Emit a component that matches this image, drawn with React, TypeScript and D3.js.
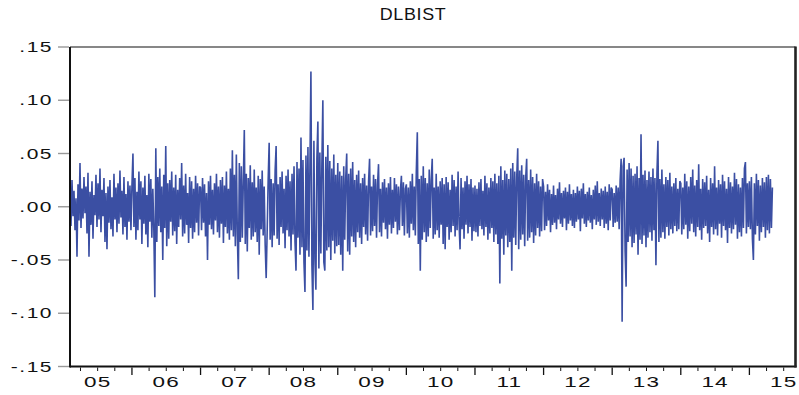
import { useRef, useEffect } from 'react';
import * as d3 from 'd3';

// daily log returns (roughly one value per pixel column)
const Y2005 = [
  .012, -.018, .025, -.009, .015, -.022, .008, -.047, .021, -.013,
  .041, -.02, .017, -.011, .028, -.006, .019, -.025, .032, -.047,
  .014, -.017, .024, -.03, .011, -.008, .03, -.019, .022, -.012,
  .036, -.024, .016, -.009, .027, -.033, .013, -.04, .019, -.015,
  .025, -.021, .009, -.028, .031, -.012, .018, -.024, .022, -.016,
  .034, -.01, .015, -.026, .028, -.019, .012, -.031, .024, -.014,
  .02, -.022,
];
const Y2006 = [
  .02, .05, -.019, .027, -.031, .014, -.022, .033, -.012, .024,
  -.035, .018, -.016, .029, -.026, .011, -.038, .031, -.014, .026,
  -.029, .017, -.021, -.085, .055, -.033, .028, -.018, .036, -.024,
  .019, -.05, .03, -.02, .057, -.037, .022, -.03, .025, -.014,
  .033, -.027, .018, -.023, .03, -.035, .016, -.019, .027, -.012,
  .041, -.028, .02, -.025, .031, -.017, .013, -.034, .028, -.02,
  .024, -.03, .017, -.024, .029, -.015, .022, -.027, .019,
];
const Y2007 = [
  .018, -.022, .027, -.015, .021, -.028, .013, -.05, .024, -.017,
  .029, -.021, .016, -.026, .022, -.013, .031, -.024, .019, -.029,
  .025, -.016, .028, -.034, .02, -.019, .033, -.025, .017, -.031,
  .036, -.022, .053, -.028, .03, -.037, .049, -.026, -.068, .041,
  -.033, .038, -.029, .024, .072, -.035, .031, -.042, .027, -.02,
  .039, -.031, .023, -.028, .035, -.024, .018, -.033, .029, -.045,
  .026, -.021, .034, -.027, .019, -.036, -.067, -.023, .025,
];
const Y2008 = [
  .06, -.031, .026, -.038, .022, -.027, .034, .057, -.03, .021,
  -.036, .028, -.019, .033, -.025, .017, -.039, .029, -.022, .035,
  -.028, .024, -.041, .031, -.026, .038, -.033, -.06, .042, -.029,
  .036, -.045, .065, -.038, .044, -.052, -.08, .048, -.041, .056,
  -.047, .038, .127, -.055, -.097, .062, -.049, -.078, .045, .08,
  -.058, .051, -.044, .039, .1, -.052, -.06, .047, -.041, .058,
  -.038, .043, -.05, .036, -.032, .049, -.044, .03, -.037,
];
const Y2009 = [
  .041, -.036, .033, -.045, .029, -.06, .038, -.031, .027, .05,
  -.042, .031, -.045, .036, -.028, .042, -.033, .025, -.038, .03,
  -.024, .034, -.029, .022, -.035, .027, -.019, .031, -.026, .02,
  -.032, .024, .045, -.027, .019, -.023, .03, -.018, .026, -.029,
  .021, .04, -.024, .017, -.028, .023, -.015, .026, -.021, .018,
  -.03, .022, -.017, .028, -.025, .016, -.02, .027, -.014, .021,
  -.026, .019, -.022, .015, .029, -.018, .023, -.027, .017,
];
const Y2010 = [
  .021, -.025, .018, -.029, .024, -.016, .031, -.022, .019, -.027,
  .033, .07, -.035, .026, -.06, .029, -.031, .038, -.024, .027,
  -.033, .022, -.028, .035, -.02, .025, .045, -.03, .018, -.026,
  .031, -.022, .019, -.029, .024, -.017, .027, -.035, .021, -.04,
  .028, -.019, .023, -.031, .016, -.024, .03, -.018, .025, -.028,
  .019, -.022, .033, -.016, -.04, .027, -.021, .018, -.03, .024,
  -.017, .029, -.025, .021, -.019, .026, -.032, .018, -.023,
];
const Y2011 = [
  .02, -.024, .017, -.028, .023, -.018, .026, -.021, .015, -.027,
  .029, -.019, .022, -.031, .018, -.025, .027, -.02, .024, -.033,
  .031, -.026, .022, -.035, .029, -.072, .038, -.03, .025, -.045,
  .034, -.027, .031, -.038, .026, -.033, .036, -.06, .041, -.029,
  .033, -.036, .028, .055, -.04, .034, -.031, .039, -.026, .03,
  -.037, .027, .045, -.032, .025, -.029, .035, -.024, .028, -.034,
  .022, -.027, .031, -.02, .024, -.028, .019, -.023, .026,
];
const Y2012 = [
  .019, -.022, .014, -.018, .021, -.013, .016, -.024, .012, -.017,
  .02, -.015, .011, -.021, .017, -.012, .023, -.016, .013, -.019,
  .015, -.011, .018, -.022, .014, -.016, .021, -.013, .012, -.018,
  .016, -.02, .013, -.014, .019, -.012, .015, -.023, .017, -.011,
  .022, -.016, .012, -.019, .014, -.013, .018, -.015, .011, -.021,
  .016, -.012, .02, -.017, .024, -.014, .013, -.018, .017, -.012,
  .015, -.02, .019, -.016, .014, -.022, .021, -.013, .018,
];
const Y2013 = [
  .016, -.019, .013, -.015, .02, -.014, .018, -.021, .025, .045,
  -.108, .038, .046, -.042, -.075, .035, -.033, .041, -.028, .036,
  -.038, .029, -.034, .031, -.026, .038, -.045, .027, -.031, .068,
  -.035, .03, -.027, .034, -.038, .025, -.029, .033, -.024, .028,
  -.032, .036, -.022, .027, -.055, .031, .062, -.033, .026, -.029,
  .035, -.024, .021, -.03, .028, -.019, .025, -.027, .032, -.021,
  .019, -.025, .022, -.018, .027, -.023, .017, -.021, .024,
];
const Y2014 = [
  .022, -.026, .018, -.021, .031, -.017, .024, -.03, .019, -.023,
  .028, -.016, .035, -.024, .02, -.028, .025, -.019, .04, -.022,
  .017, -.031, .026, -.02, .023, -.018, .029, -.025, .016, -.033,
  .027, -.019, .022, -.026, .038, -.021, .018, -.027, .025, -.016,
  .021, -.029, .03, -.018, .024, -.022, .017, -.034, .028, -.02,
  .023, -.025, .019, -.021, .032, -.017, .026, -.03, .021, -.024,
  .018, -.028, .027, -.02, .036, .042, -.025, .022, -.019,
];
const Y2015 = [
  .024, -.021, .028, -.03, -.05, .022, -.026, .031, -.018, .025,
  -.032, .02, -.024, .027, -.019, .023, -.029, .028, -.022, .03,
  -.025, .026, -.02, .018,
];

// [year the array starts, year it ends, values]
const YEARS: [number, number, number[]][] = [
  [2005.097, 2006, Y2005], [2006, 2007, Y2006], [2007, 2008, Y2007],
  [2008, 2009, Y2008], [2009, 2010, Y2009], [2010, 2011, Y2010],
  [2011, 2012, Y2011], [2012, 2013, Y2012], [2013, 2014, Y2013],
  [2014, 2015, Y2014], [2015, 2015.35, Y2015],
];

const Y_TICKS = [0.15, 0.10, 0.05, 0, -0.05, -0.10, -0.15];
const Y_LABELS = ['.15', '.10', '.05', '.00', '-.05', '-.10', '-.15'];
const X_LABELS = ['05', '06', '07', '08', '09', '10', '11', '12', '13', '14', '15'];

export default function App() {
  const ref = useRef<HTMLDivElement>(null);

  useEffect(() => {
    if (!ref.current) return;
    const container = ref.current;
    container.innerHTML = '';

    const width = 799;
    const height = 395;
    const font = '"Liberation Sans", Arial, sans-serif';

    const svg = d3.select(container)
      .append('svg')
      .attr('width', width)
      .attr('height', height)
      .style('display', 'block')
      .style('background', '#fff');

    const x = d3.scaleLinear().domain([2005.097, 2015.672]).range([70, 795.5]);
    const y = d3.scaleLinear().domain([-0.15, 0.15]).range([366.5, 47]);

    const points: { t: number; v: number }[] = [];
    YEARS.forEach(([a, b, vals]) => {
      vals.forEach((v, i) => points.push({ t: a + (b - a) * i / vals.length, v }));
    });

    // series
    const line = d3.line<{ t: number; v: number }>().x(d => x(d.t)).y(d => y(d.v));
    svg.append('path')
      .datum(points)
      .attr('fill', 'none')
      .attr('stroke', '#3b4fa3')
      .attr('stroke-width', 1.6)
      .attr('stroke-linejoin', 'bevel')
      .attr('d', line);

    // frame
    const [x0, x1] = x.range();
    const [y0, y1] = y.range();
    svg.append('line').attr('x1', x0).attr('x2', x1).attr('y1', y1).attr('y2', y1)
      .attr('stroke', '#111').attr('stroke-width', 1.2);
    svg.append('line').attr('x1', x0).attr('x2', x1 + 1).attr('y1', y0).attr('y2', y0)
      .attr('stroke', '#111').attr('stroke-width', 1.8);
    svg.append('line').attr('x1', x0).attr('x2', x0).attr('y1', y1).attr('y2', y0 + 1)
      .attr('stroke', '#111').attr('stroke-width', 2);
    svg.append('line').attr('x1', x1).attr('x2', x1).attr('y1', y1 - 0.6).attr('y2', y0 + 1)
      .attr('stroke', '#222').attr('stroke-width', 2.6);

    // y ticks + labels
    Y_TICKS.forEach((t, i) => {
      svg.append('line')
        .attr('x1', 58).attr('x2', x0 - 1)
        .attr('y1', y(t)).attr('y2', y(t))
        .attr('stroke', '#999').attr('stroke-width', 1.4);
      svg.append('g')
        .attr('transform', `translate(53,${y(t) + 5}) scale(1.5,1)`)
        .append('text')
        .attr('text-anchor', 'end')
        .attr('font-family', font)
        .attr('font-size', 14)
        .attr('letter-spacing', 1)
        .attr('fill', '#111')
        .text(Y_LABELS[i]);
    });

    // x ticks: quarters minor, years major
    for (let q = 2005.25; q < 2015.7; q += 0.25) {
      const major = Math.abs(q - Math.round(q)) < 1e-6;
      svg.append('line')
        .attr('x1', x(q)).attr('x2', x(q))
        .attr('y1', y0 + 1).attr('y2', y0 + (major ? 8.5 : 4.5))
        .attr('stroke', '#111').attr('stroke-width', major ? 1.3 : 1);
    }

    X_LABELS.forEach((lab, i) => {
      svg.append('g')
        .attr('transform', `translate(${x(2005.5 + i)},387) scale(1.5,1)`)
        .append('text')
        .attr('text-anchor', 'middle')
        .attr('font-family', font)
        .attr('font-size', 15)
        .attr('letter-spacing', 0.8)
        .attr('fill', '#111')
        .text(lab);
    });

    // title
    svg.append('g')
      .attr('transform', 'translate(413,20) scale(1.12,1)')
      .append('text')
      .attr('text-anchor', 'middle')
      .attr('font-family', font)
      .attr('font-size', 16)
      .attr('letter-spacing', 0.6)
      .attr('fill', '#111')
      .text('DLBIST');
  }, []);

  return <div ref={ref} style={{ position: 'fixed', top: 0, left: 0 }} />;
}
